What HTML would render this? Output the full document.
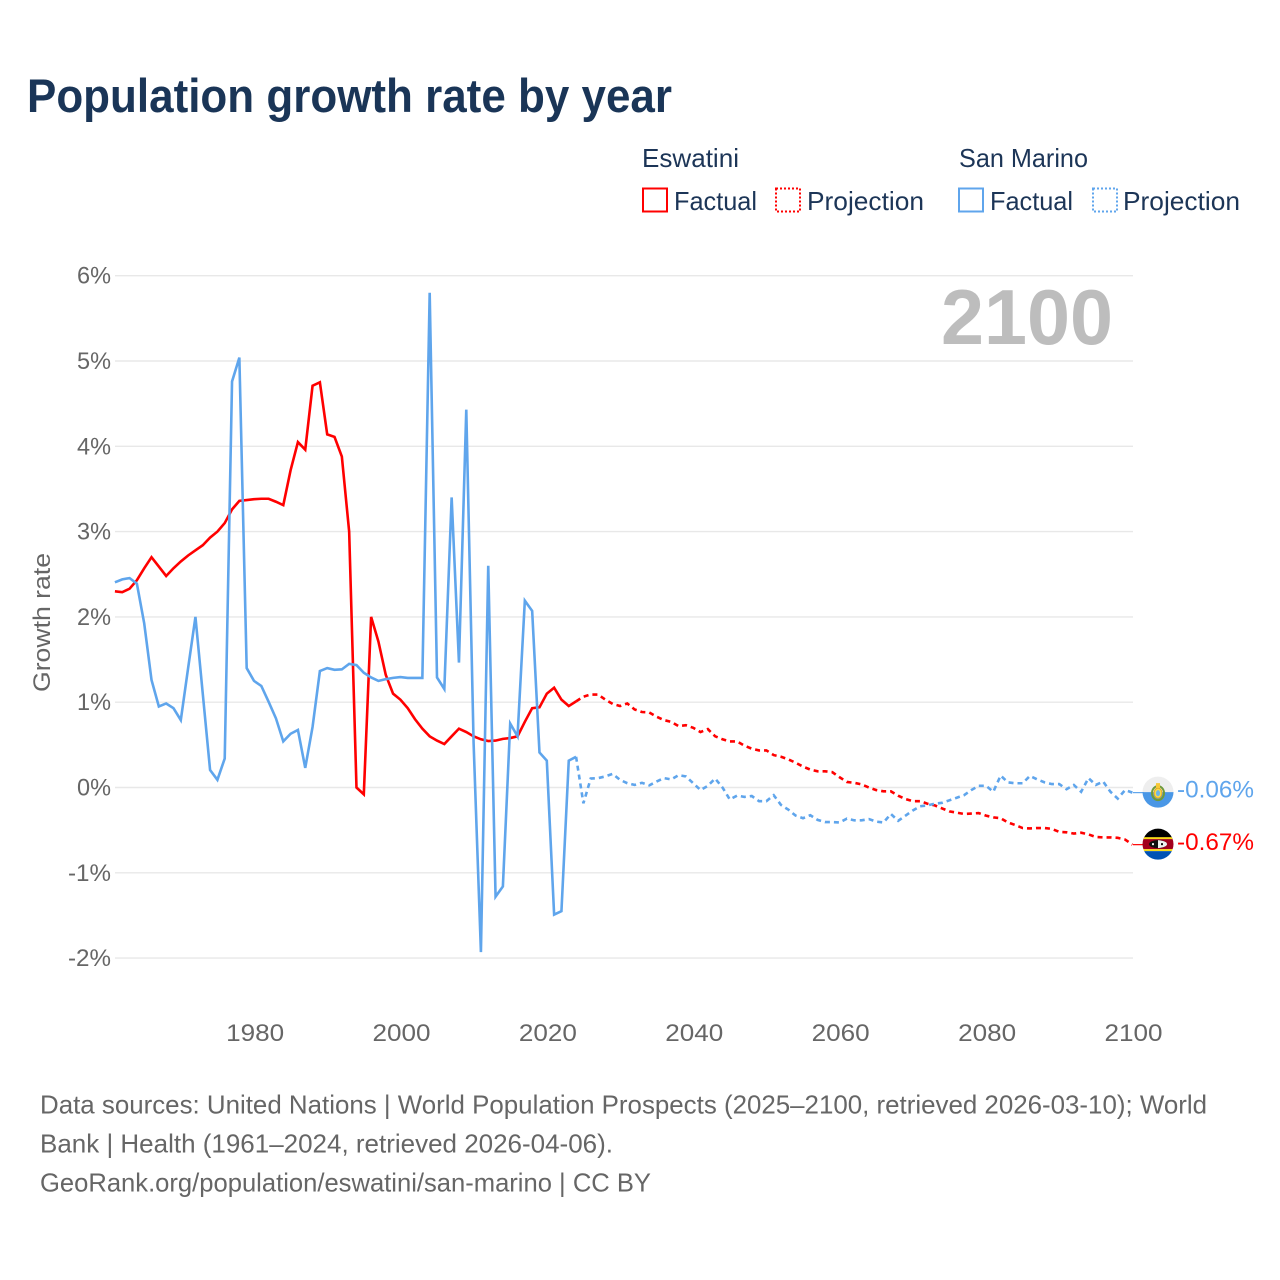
<!DOCTYPE html>
<html lang="en">
<head>
<meta charset="utf-8">
<title>Population growth rate by year</title>
<style>
  html, body { margin: 0; padding: 0; background: #fff; }
  svg { display: block; font-family: "Liberation Sans", "DejaVu Sans", sans-serif; }
</style>
</head>
<body>
<svg id="chart" xmlns="http://www.w3.org/2000/svg" width="1280" height="1280" viewBox="0 0 1280 1280">
  <rect x="0" y="0" width="1280" height="1280" fill="#ffffff"/>
  <text x="27" y="112" font-size="47" font-weight="700" fill="#1a3557" textLength="645" lengthAdjust="spacingAndGlyphs">Population growth rate by year</text>

  <g font-size="26" fill="#1c3557">
    <text x="642" y="167" textLength="97" lengthAdjust="spacingAndGlyphs">Eswatini</text>
    <text x="959" y="167" textLength="129" lengthAdjust="spacingAndGlyphs">San Marino</text>
    <g>
      <rect x="643" y="188.5" width="24" height="23" fill="none" stroke="#ff0000" stroke-width="2"/>
      <text x="674" y="210" textLength="83" lengthAdjust="spacingAndGlyphs">Factual</text>
    </g>
    <g>
      <rect x="776" y="188.5" width="24" height="23" fill="none" stroke="#ff0000" stroke-width="2" stroke-dasharray="2 2"/>
      <text x="807" y="210" textLength="117" lengthAdjust="spacingAndGlyphs">Projection</text>
    </g>
    <g>
      <rect x="959" y="188.5" width="24" height="23" fill="none" stroke="#5fa5ec" stroke-width="2"/>
      <text x="990" y="210" textLength="83" lengthAdjust="spacingAndGlyphs">Factual</text>
    </g>
    <g>
      <rect x="1093" y="188.5" width="24" height="23" fill="none" stroke="#5fa5ec" stroke-width="2" stroke-dasharray="2 2"/>
      <text x="1123" y="210" textLength="117" lengthAdjust="spacingAndGlyphs">Projection</text>
    </g>
  </g>

  <text transform="translate(50 622.5) rotate(-90)" text-anchor="middle" font-size="24" fill="#666666" textLength="139" lengthAdjust="spacingAndGlyphs">Growth rate</text>

  <g id="grid"></g>
  <g id="y-labels"></g>
  <g id="x-labels"></g>

  <text x="941" y="344" font-size="78" font-weight="700" fill="#bdbdbd" textLength="172" lengthAdjust="spacingAndGlyphs">2100</text>

  <g id="series"></g>

  <defs>
    <clipPath id="clip-sm"><circle cx="0" cy="0" r="15.5"/></clipPath>
    <clipPath id="clip-sz"><circle cx="0" cy="0" r="15.5"/></clipPath>
  </defs>

  <g id="flag-sm">
    <g clip-path="url(#clip-sm)">
      <rect x="-16" y="-16" width="32" height="16" fill="#eeeeee"/>
      <rect x="-16" y="0" width="32" height="16" fill="#4a97e6"/>
      <ellipse cx="0" cy="1" rx="6" ry="7" fill="none" stroke="#6f9a3a" stroke-width="2"/>
      <ellipse cx="0" cy="1" rx="4" ry="5" fill="#f7d94c" stroke="#e0a820" stroke-width="1"/>
      <ellipse cx="0" cy="1" rx="2" ry="3" fill="#6db4e8"/>
      <rect x="-2" y="-9" width="4" height="5" fill="#f7c837"/>
    </g>
  </g>
  <g id="flag-sz">
    <g clip-path="url(#clip-sz)">
      <rect x="-16" y="-16" width="32" height="11" fill="#000000"/>
      <rect x="-16" y="-7" width="32" height="2" fill="#f7d917"/>
      <rect x="-16" y="-5" width="32" height="10" fill="#a2001d"/>
      <rect x="-16" y="5" width="32" height="2" fill="#f7d917"/>
      <rect x="-16" y="7" width="32" height="9" fill="#0052b4"/>
      <ellipse cx="0" cy="0" rx="9" ry="4" fill="#111111"/>
      <path d="M0 -4 Q9 -3 9 0 Q9 3 0 4 Z" fill="#f0f0f0"/>
      <rect x="-6" y="-1" width="2" height="2" fill="#f0f0f0"/>
      <rect x="3" y="-1" width="2" height="2" fill="#111111"/>
    </g>
  </g>

  <g id="end-labels"></g>

  <g font-size="26" fill="#666666">
    <text x="40" y="1113.5" textLength="1167" lengthAdjust="spacingAndGlyphs">Data sources: United Nations | World Population Prospects (2025–2100, retrieved 2026-03-10); World</text>
    <text x="40" y="1152.5" textLength="573" lengthAdjust="spacingAndGlyphs">Bank | Health (1961–2024, retrieved 2026-04-06).</text>
    <text x="40" y="1191.5" textLength="611" lengthAdjust="spacingAndGlyphs">GeoRank.org/population/eswatini/san-marino | CC BY</text>
  </g>
</svg>

<script>
const factualStartYear = 1961;
const projectionStartYear = 2024;
const yTickValues = [6, 5, 4, 3, 2, 1, 0, -1, -2];
const yTickLabels = ["6%", "5%", "4%", "3%", "2%", "1%", "0%", "-1%", "-2%"];
const xTickYears = [1980, 2000, 2020, 2040, 2060, 2080, 2100];
const xTickLabels = ["1980", "2000", "2020", "2040", "2060", "2080", "2100"];
const endValueLabels = ["-0.67%", "-0.06%"];

const eswatiniFactual = [
  2.30, 2.29, 2.33, 2.43, 2.57, 2.70, 2.59, 2.48, 2.57, 2.65,
  2.72, 2.78, 2.84, 2.93, 3.00, 3.10, 3.26, 3.36, 3.37, 3.38,
  3.385, 3.385, 3.35, 3.31, 3.72, 4.05, 3.96, 4.71, 4.75, 4.14,
  4.11, 3.88, 3.00, 0.00, -0.08, 2.00, 1.71, 1.32, 1.10, 1.03,
  0.93, 0.80, 0.69, 0.60, 0.55, 0.51, 0.60, 0.69, 0.65, 0.60,
  0.565, 0.545, 0.55, 0.57, 0.58, 0.60, 0.77, 0.93, 0.94, 1.10,
  1.17, 1.03, 0.955, 1.01
];
const eswatiniProjection = [
  1.01, 1.065, 1.09, 1.09, 1.03, 0.98, 0.955, 0.985, 0.915, 0.885,
  0.88, 0.83, 0.79, 0.77, 0.72, 0.73, 0.70, 0.65, 0.685, 0.60,
  0.565, 0.54, 0.54, 0.49, 0.455, 0.435, 0.435, 0.38, 0.36, 0.33,
  0.29, 0.245, 0.21, 0.19, 0.19, 0.18, 0.12, 0.065, 0.055, 0.036,
  0.00, -0.03, -0.045, -0.045, -0.096, -0.135, -0.16, -0.16, -0.19, -0.21,
  -0.245, -0.28, -0.295, -0.31, -0.305, -0.30, -0.33, -0.35, -0.36, -0.41,
  -0.44, -0.475, -0.48, -0.475, -0.475, -0.485, -0.52, -0.525, -0.54, -0.53,
  -0.55, -0.58, -0.585, -0.585, -0.59, -0.61, -0.67
];
const sanMarinoFactual = [
  2.405, 2.44, 2.455, 2.39, 1.925, 1.26, 0.95, 0.985, 0.93, 0.79,
  1.40, 2.00, 1.10, 0.205, 0.09, 0.34, 4.76, 5.04, 1.40, 1.25,
  1.19, 1.005, 0.81, 0.54, 0.63, 0.675, 0.23, 0.71, 1.365, 1.40,
  1.38, 1.385, 1.45, 1.435, 1.345, 1.29, 1.25, 1.27, 1.285, 1.295,
  1.285, 1.285, 1.285, 5.80, 1.29, 1.155, 3.40, 1.465, 4.43, 0.52,
  -1.93, 2.60, -1.28, -1.16, 0.75, 0.60, 2.19, 2.07, 0.41, 0.315,
  -1.49, -1.45, 0.315, 0.36
];
const sanMarinoProjection = [
  0.36, -0.185, 0.105, 0.11, 0.13, 0.16, 0.09, 0.05, 0.03, 0.055,
  0.025, 0.07, 0.11, 0.095, 0.145, 0.13, 0.05, -0.03, 0.02, 0.105,
  0.00, -0.14, -0.095, -0.11, -0.10, -0.16, -0.16, -0.09, -0.205, -0.26,
  -0.33, -0.36, -0.325, -0.38, -0.405, -0.405, -0.41, -0.365, -0.385, -0.385,
  -0.37, -0.40, -0.41, -0.31, -0.39, -0.33, -0.27, -0.22, -0.21, -0.19,
  -0.18, -0.15, -0.12, -0.09, -0.03, 0.02, 0.02, -0.05, 0.14, 0.06,
  0.05, 0.05, 0.135, 0.095, 0.06, 0.04, 0.04, -0.02, 0.03, -0.05,
  0.11, 0.03, 0.07, -0.05, -0.13, -0.03, -0.06
];

const NS = "http://www.w3.org/2000/svg";
const RED = "#ff0000";
const BLUE = "#5fa5ec";
const PLOT_LEFT = 115;
const PLOT_RIGHT = 1133;

function xScale(year) { return 1132.4 + (year - 2100) * 7.32; }
function yScale(value) { return 787.5 - value * 85.3; }

function make(tag, parent, props) {
  const el = document.createElementNS(NS, tag);
  Object.keys(props).forEach(function (k) { el.setAttribute(k, props[k]); });
  parent.appendChild(el);
  return el;
}

function linePath(values, startYear) {
  return values.map(function (v, i) {
    return (i ? "L" : "M") + xScale(startYear + i).toFixed(2) + " " + yScale(v).toFixed(2);
  }).join(" ");
}

const grid = document.getElementById("grid");
const yLabelGroup = document.getElementById("y-labels");
yTickValues.forEach(function (v, i) {
  const line = make("line", grid, { x1: PLOT_LEFT, x2: PLOT_RIGHT, y1: yScale(v), y2: yScale(v), stroke: "#e8e8e8", "stroke-width": 1.4 });
  
  
  const label = make("text", yLabelGroup, {
    x: 111, y: yScale(v) + 8, "text-anchor": "end", "font-size": 24, fill: "#666666",
    textLength: v < 0 ? 43 : 34, lengthAdjust: "spacingAndGlyphs"
  });
  
  
  label.textContent = yTickLabels[i];
});

const xLabelGroup = document.getElementById("x-labels");
xTickYears.forEach(function (yr, i) {
  const label = make("text", xLabelGroup, {
    x: xScale(yr) + 1.1, y: 1041, "text-anchor": "middle", "font-size": 24, fill: "#666666",
    textLength: 58, lengthAdjust: "spacingAndGlyphs"
  });
  
  
  label.textContent = xTickLabels[i];
});

const seriesGroup = document.getElementById("series");

const esFactualLine = make("path", seriesGroup, { d: linePath(eswatiniFactual, factualStartYear), fill: "none", stroke: RED, "stroke-width": 2.6, "stroke-linejoin": "miter" });



const esProjectionLine = make("path", seriesGroup, { d: linePath(eswatiniProjection, projectionStartYear), fill: "none", stroke: RED, "stroke-width": 2.6, "stroke-dasharray": "5 4" });



const smFactualLine = make("path", seriesGroup, { d: linePath(sanMarinoFactual, factualStartYear), fill: "none", stroke: BLUE, "stroke-width": 2.6, "stroke-linejoin": "miter" });



const smProjectionLine = make("path", seriesGroup, { d: linePath(sanMarinoProjection, projectionStartYear), fill: "none", stroke: BLUE, "stroke-width": 2.6, "stroke-dasharray": "5 4" });



const esLast = eswatiniProjection[eswatiniProjection.length - 1];
const smLast = sanMarinoProjection[sanMarinoProjection.length - 1];

const esConnector = make("line", seriesGroup, { x1: PLOT_RIGHT, x2: 1144, y1: yScale(esLast), y2: yScale(esLast), stroke: RED, "stroke-width": 1.2 });



const smConnector = make("line", seriesGroup, { x1: PLOT_RIGHT, x2: 1144, y1: yScale(smLast), y2: yScale(smLast), stroke: BLUE, "stroke-width": 1.2 });



document.getElementById("flag-sz").setAttribute("transform", "translate(1158 " + (yScale(esLast) - 0.5).toFixed(2) + ")");
document.getElementById("flag-sm").setAttribute("transform", "translate(1158 " + (yScale(smLast) - 0.5).toFixed(2) + ")");

const endGroup = document.getElementById("end-labels");
const esEndLabel = make("text", endGroup, { x: 1177, y: yScale(esLast) + 5.5, "font-size": 24.5, fill: RED, textLength: 77, lengthAdjust: "spacingAndGlyphs" });


esEndLabel.textContent = endValueLabels[0];

const smEndLabel = make("text", endGroup, { x: 1177, y: yScale(smLast) + 5.0, "font-size": 24.5, fill: BLUE, textLength: 77, lengthAdjust: "spacingAndGlyphs" });


smEndLabel.textContent = endValueLabels[1];
</script>
</body>
</html>
